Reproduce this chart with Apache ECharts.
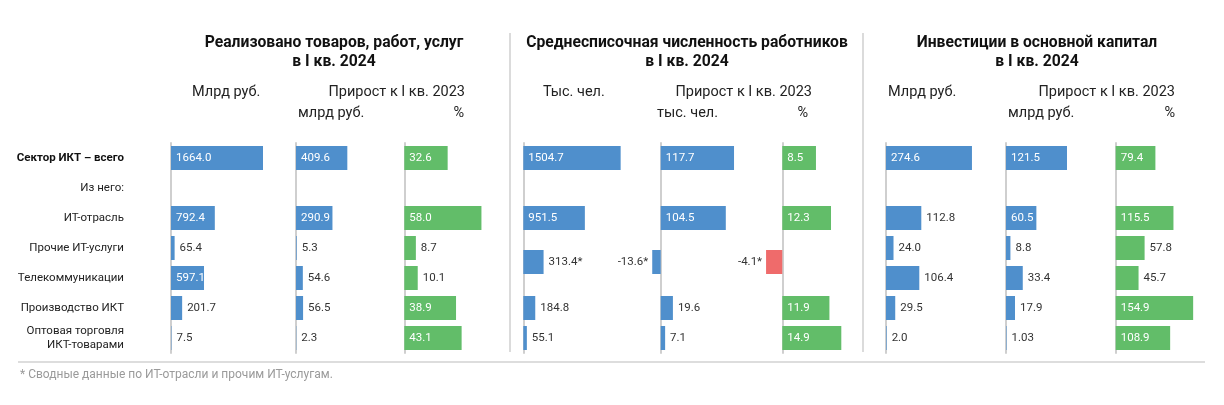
<!DOCTYPE html>
<html>
<head>
<meta charset="utf-8">
<script src="https://cdn.jsdelivr.net/npm/echarts@6/dist/echarts.min.js"></script>
<style>html,body{margin:0;padding:0;background:#fff}#c{width:1224px;height:405px}</style>
</head>
<body>
<div id="c"></div>
<script>
// ---- data ----
const rows = ['Сектор ИКТ – всего', 'Из него:', 'ИТ-отрасль', 'Прочие ИТ-услуги', 'Телекоммуникации', 'Производство ИКТ', 'Оптовая торговля\nИКТ-товарами'];

const salesTotal     = [1664.0, null, 792.4, 65.4, 597.1, 201.7, 7.5];
const salesGrowthAbs = [409.6, null, 290.9, 5.3, 54.6, 56.5, 2.3];
const salesGrowthPct = [32.6, null, 58.0, 8.7, 10.1, 38.9, 43.1];

const staffTotal     = [1504.7, null, 951.5, null, null, 184.8, 55.1];
const staffGrowthAbs = [117.7, null, 104.5, null, null, 19.6, 7.1];
const staffGrowthPct = [8.5, null, 12.3, null, null, 11.9, 14.9];
// combined row (IT industry + other IT services), marked with *
const staffCombined  = [313.4, -13.6, -4.1];

const investTotal     = [274.6, null, 112.8, 24.0, 106.4, 29.5, 2.0];
const investGrowthAbs = [121.5, null, 60.5, 8.8, 33.4, 17.9, 1.03];
const investGrowthPct = [79.4, null, 115.5, 57.8, 45.7, 154.9, 108.9];

// ---- layout / style ----
const FONT = 'Roboto';
const BLUE = '#4f8fcc', GREEN = '#62bd69', RED = '#ef6b6b';
const GRID_TOP = 143, GRID_H = 210, BAR_W = 24;

const columns = [
  {vals: salesTotal,      x0: 171,   k: 0.05529, min: 0,   max: 1800, color: BLUE,  neg: BLUE, thr: 30},
  {vals: salesGrowthAbs,  x0: 296,   k: 0.1253,  min: 0,   max: 440,  color: BLUE,  neg: BLUE, thr: 30},
  {vals: salesGrowthPct,  x0: 404.3, k: 1.33,    min: 0,   max: 60,   color: GREEN, neg: RED,  thr: 30},
  {vals: staffTotal,      x0: 523.3, k: 0.0647,  min: 0,   max: 1600, color: BLUE,  neg: BLUE, thr: 30, comb: 0},
  {vals: staffGrowthAbs,  x0: 660.7, k: 0.623,   min: -20, max: 130,  color: BLUE,  neg: BLUE, thr: 30, comb: 1},
  {vals: staffGrowthPct,  x0: 782.3, k: 3.96,    min: -5,  max: 16,   color: GREEN, neg: RED,  thr: 30, comb: 2},
  {vals: investTotal,     x0: 886,   k: 0.313,   min: 0,   max: 300,  color: BLUE,  neg: BLUE, thr: 40},
  {vals: investGrowthAbs, x0: 1006,  k: 0.502,   min: 0,   max: 130,  color: BLUE,  neg: BLUE, thr: 30},
  {vals: investGrowthPct, x0: 1115.7,k: 0.5,     min: 0,   max: 160,  color: GREEN, neg: RED,  thr: 30}
];

function fmt(v) {
  return Math.round(v * 10) / 10 === v ? v.toFixed(1) : String(v);
}
function labelFor(v, col) {
  const px = Math.abs(v) * col.k;
  if (v < 0) return {position: 'left', distance: 4, color: '#333'};
  if (px >= col.thr) return {position: 'insideLeft', distance: 5, color: '#fff'};
  return {position: 'right', distance: 5, color: '#333'};
}
function item(v, col) {
  if (v == null) return '-';
  return {
    value: v,
    itemStyle: {color: v < 0 ? col.neg : col.color},
    label: labelFor(v, col)
  };
}

const grids = [], xAxes = [], yAxes = [], series = [];

function addAxes(col, top, height, cats, showLine, showLabels) {
  const idx = grids.length;
  grids.push({
    left: col.x0 + col.min * col.k,
    width: (col.max - col.min) * col.k,
    top: top, height: height,
    containLabel: false, outerBoundsMode: 'none'
  });
  xAxes.push({type: 'value', gridIndex: idx, min: col.min, max: col.max, show: false});
  yAxes.push({
    type: 'category', gridIndex: idx, data: cats, inverse: true,
    axisLine: {show: showLine, onZero: true, lineStyle: {color: '#cfcfcf', width: 2}},
    axisTick: {show: false},
    splitLine: {show: false},
    axisLabel: showLabels ? {
      show: true, interval: 0, margin: 47, align: 'right',
      fontFamily: FONT, fontSize: 11.5, color: '#222', lineHeight: 14,
      formatter: (val, i) => i === 0 ? '{b|' + val + '}' : val,
      rich: {b: {fontWeight: 'bold', fontFamily: FONT, fontSize: 11.5, color: '#111'}}
    } : {show: false}
  });
  return idx;
}

const labelBase = {show: true, fontFamily: FONT, fontSize: 11.5};

columns.forEach((col, ci) => {
  const idx = addAxes(col, GRID_TOP, GRID_H, rows, true, ci === 0);
  series.push({
    type: 'bar', xAxisIndex: idx, yAxisIndex: idx, barWidth: BAR_W,
    silent: true, animation: false,
    label: Object.assign({}, labelBase, {formatter: p => fmt(p.value)}),
    data: col.vals.map(v => item(v, col))
  });
  if (col.comb !== undefined) {
    const j = addAxes(col, GRID_TOP + 3.5 * 30 + 2, BAR_W, [rows[3] + ' + ' + rows[2]], false, false);
    const v = staffCombined[col.comb];
    series.push({
      type: 'bar', xAxisIndex: j, yAxisIndex: j, barWidth: BAR_W,
      silent: true, animation: false,
      label: Object.assign({}, labelBase, {formatter: p => fmt(p.value) + '*'}),
      data: [item(v, col)]
    });
  }
});

// ---- header texts ----
function txt(text, x, y, align, size, weight, color) {
  return {type: 'text', x: x, y: y, silent: true,
    style: {text: text, align: align, verticalAlign: 'middle', fontFamily: FONT,
      fontSize: size, fontWeight: weight || 'normal', fill: color || '#1a1a1a'}};
}
const graphics = [];
const panels = [
  {title: ['Реализовано товаров, работ, услуг', 'в I кв. 2024'], cx: 334,
   unit: ['Млрд руб.', 192], growth: 465, sub: ['млрд руб.', 298], pct: 464},
  {title: ['Среднесписочная численность работников', 'в I кв. 2024'], cx: 687,
   unit: ['Тыс. чел.', 543], growth: 812, sub: ['тыс. чел.', 657], pct: 808},
  {title: ['Инвестиции в основной капитал', 'в I кв. 2024'], cx: 1037,
   unit: ['Млрд руб.', 888], growth: 1175, sub: ['млрд руб.', 1008], pct: 1175}
];
panels.forEach(p => {
  graphics.push(txt(p.title[0], p.cx, 43, 'center', 15.7, 'bold', '#111'));
  graphics.push(txt(p.title[1], p.cx, 62, 'center', 15.7, 'bold', '#111'));
  graphics.push(txt(p.unit[0], p.unit[1], 92, 'left', 14.5, 'normal', '#222'));
  graphics.push(txt('Прирост к I кв. 2023', p.growth, 92, 'right', 14.5, 'normal', '#222'));
  graphics.push(txt(p.sub[0], p.sub[1], 113, 'left', 14.5, 'normal', '#222'));
  graphics.push(txt('%', p.pct, 113, 'right', 14.5, 'normal', '#222'));
});
[510, 863].forEach(x => graphics.push({type: 'line', silent: true,
  shape: {x1: x, y1: 33, x2: x, y2: 352}, style: {stroke: '#cfcfcf', lineWidth: 1.5}}));
graphics.push({type: 'line', silent: true, shape: {x1: 18, y1: 362, x2: 1205, y2: 362},
  style: {stroke: '#d2d2d2', lineWidth: 1.5}});
graphics.push(txt('* Сводные данные по ИТ-отрасли и прочим ИТ-услугам.', 20, 375, 'left', 12, 'normal', '#9a9a9a'));

const chart = echarts.init(document.getElementById('c'), null, {renderer: 'canvas'});
chart.setOption({
  animation: false,
  backgroundColor: '#fff',
  grid: grids, xAxis: xAxes, yAxis: yAxes, series: series,
  graphic: graphics
});
</script>
</body>
</html>
